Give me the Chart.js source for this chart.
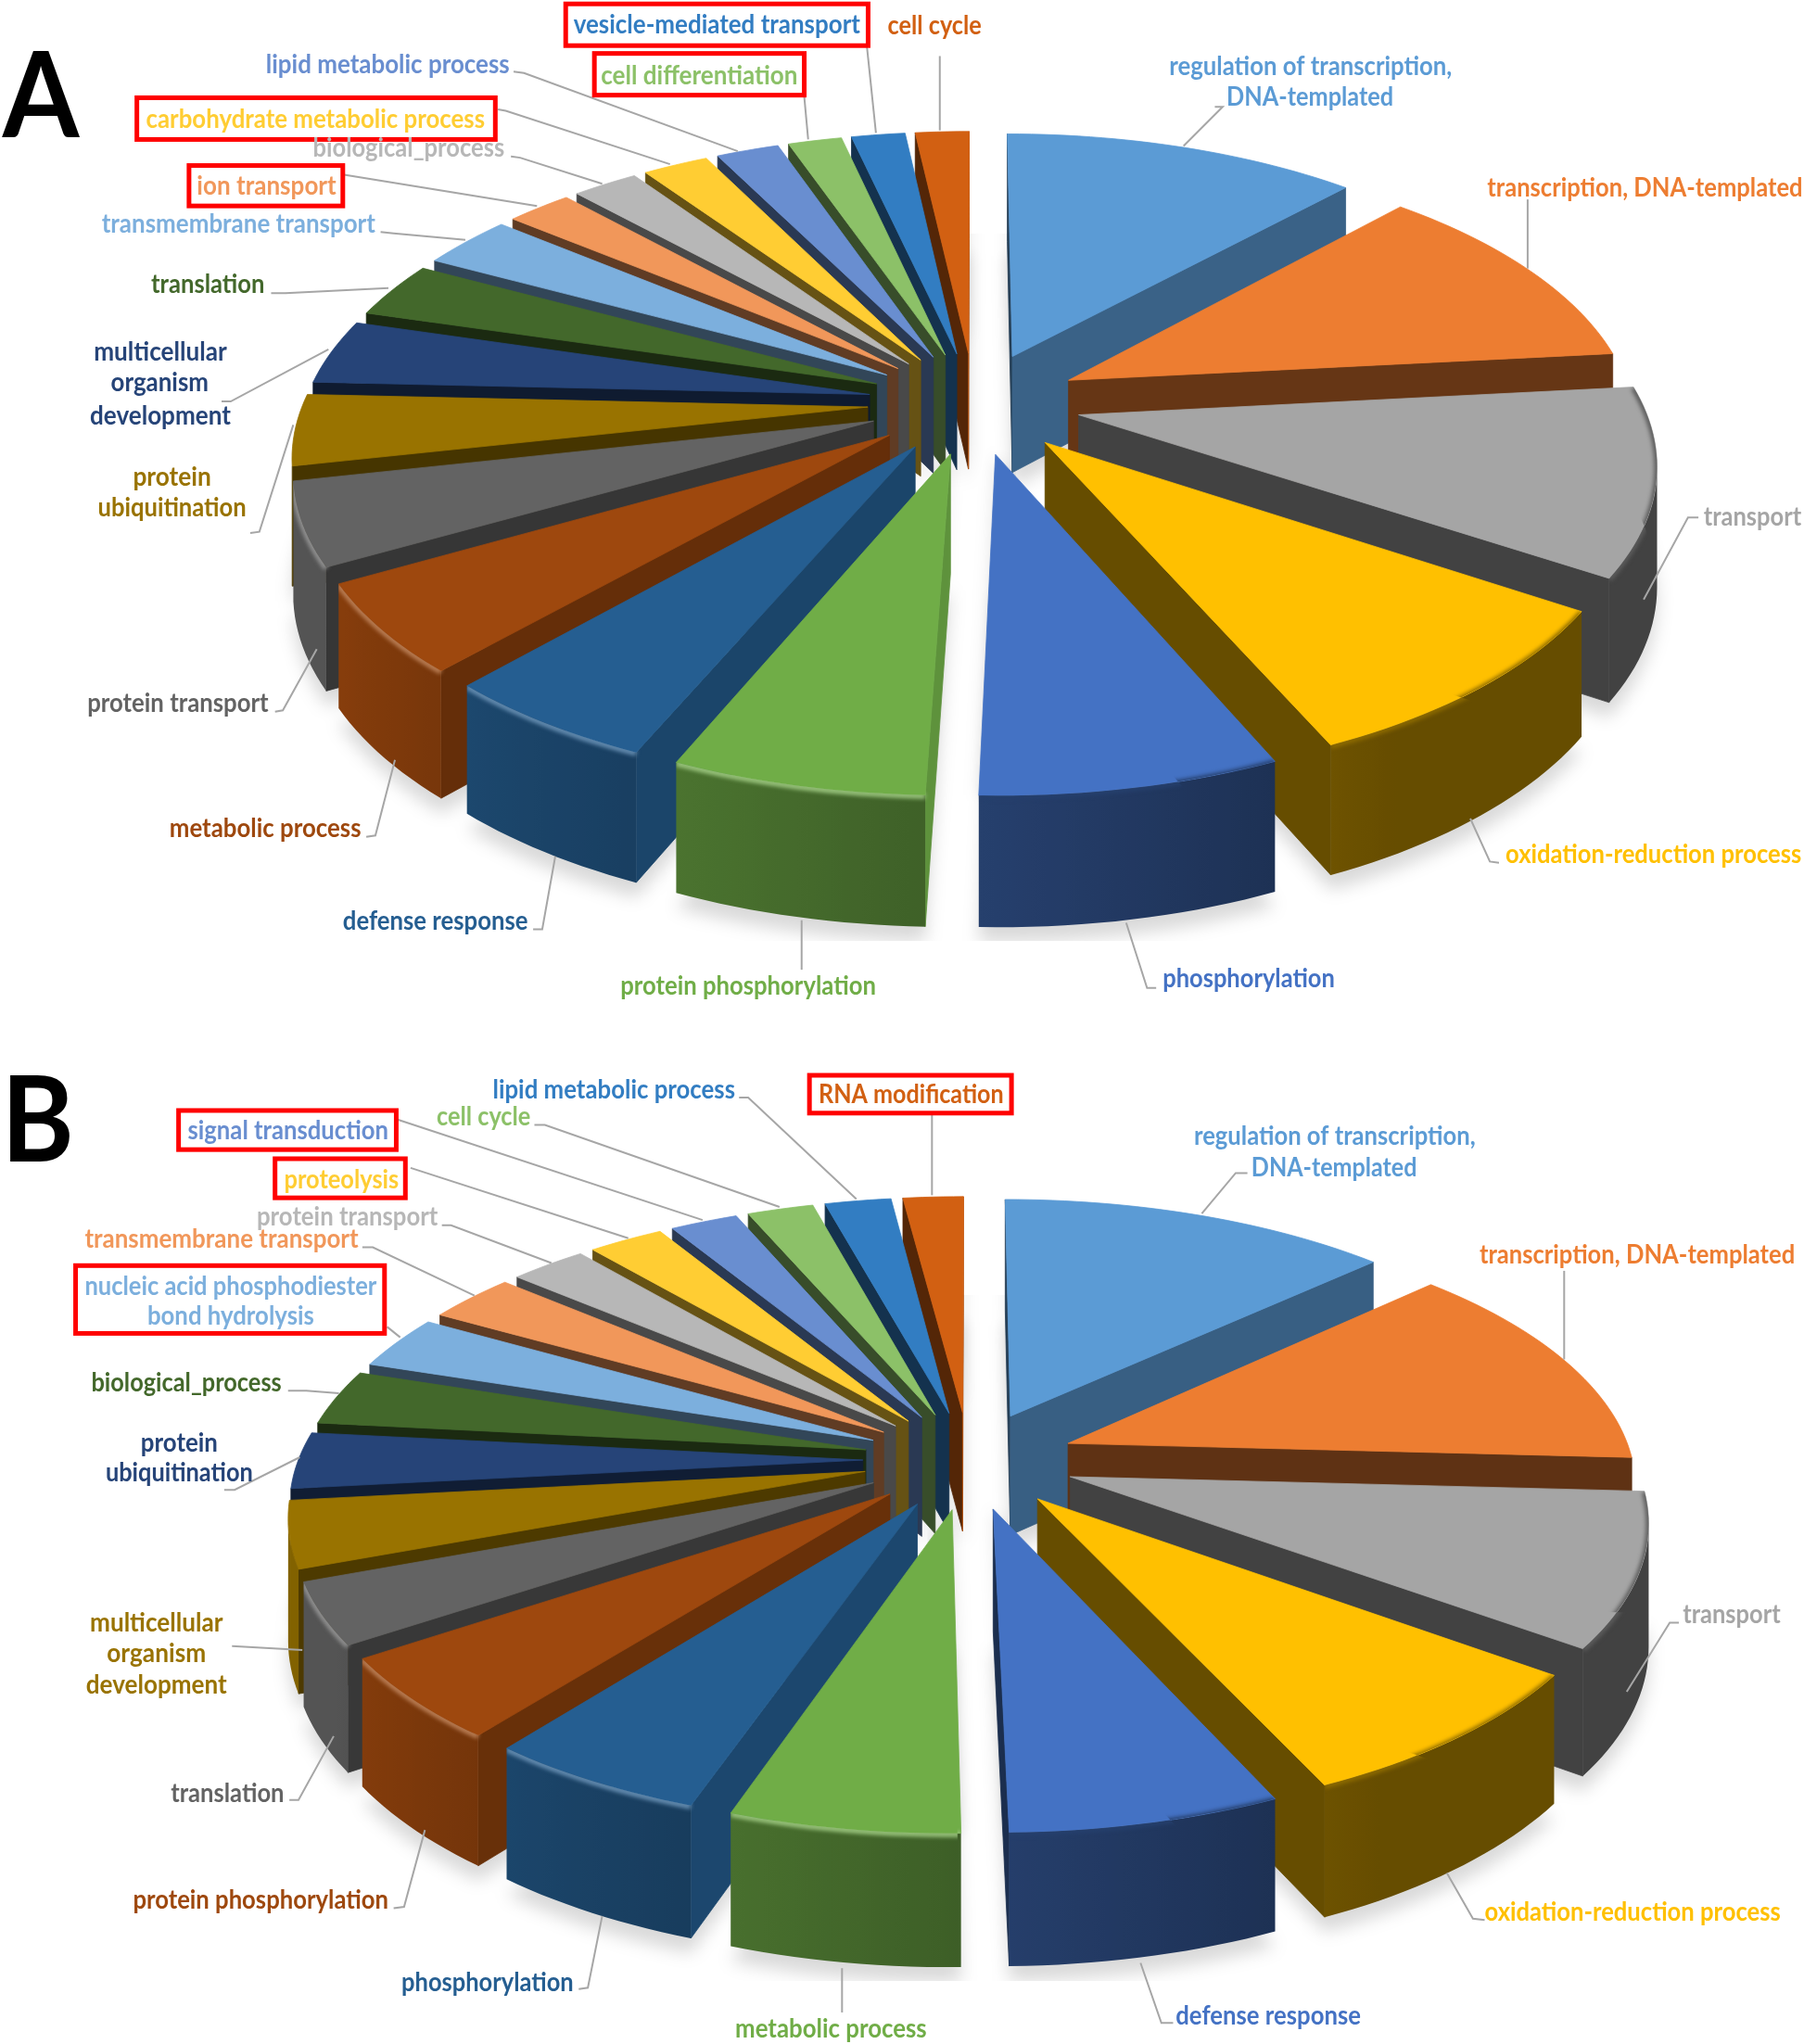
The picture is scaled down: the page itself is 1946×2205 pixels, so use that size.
<!DOCTYPE html>
<html>
<head>
<meta charset="utf-8">
<title>GO terms pies</title>
<script src="https://cdn.jsdelivr.net/npm/chart.js@4/dist/chart.umd.min.js"></script>
<style>
html, body { margin: 0; padding: 0; background: #fff; }
canvas { position: absolute; left: 0; top: 0; }
</style>
</head>
<body>
<canvas id="pieA" width="1946" height="2205"></canvas>
<canvas id="pieB" width="1946" height="2205"></canvas>
<script>
// chart data
var categoriesA = [["regulation of transcription,", "DNA-templated"], "transcription, DNA-templated", "transport", "oxidation-reduction process",
  "phosphorylation", "protein phosphorylation", "defense response", "metabolic process", "protein transport",
  ["protein", "ubiquitination"], ["multicellular", "organism", "development"], "translation", "transmembrane transport",
  "ion transport", "biological_process", "carbohydrate metabolic process", "lipid metabolic process",
  "cell differentiation", "vesicle-mediated transport", "cell cycle"];
var valuesA = [11.9, 11.4, 10.8, 9.15, 7.1, 6.0, 5.2, 5.15, 4.75, 4.1, 3.75, 3.25, 3.1, 2.2, 2.2, 2.2, 2.1, 1.8, 1.8, 1.8];

var categoriesB = [["regulation of transcription,", "DNA-templated"], "transcription, DNA-templated", "transport", "oxidation-reduction process",
  "defense response", "metabolic process", "phosphorylation", "protein phosphorylation", "translation",
  ["multicellular", "organism", "development"], ["protein", "ubiquitination"], "biological_process",
  ["nucleic acid phosphodiester", "bond hydrolysis"], "transmembrane transport", "protein transport", "proteolysis",
  "signal transduction", "cell cycle", "lipid metabolic process", "RNA modification"];
var valuesB = [13.0, 12.8, 9.2, 8.1, 6.5, 5.5, 5.3, 5.0, 3.7, 4.0, 3.4, 3.35, 3.25, 2.95, 2.55, 2.5, 2.25, 2.2, 2.2, 2.0];

var sliceColors = ["#5B9BD5", "#ED7D31", "#A5A5A5", "#FFC000", "#4472C4", "#70AD47", "#255E91", "#9E480E", "#636363", "#997300",
  "#264478", "#43682B", "#7CAFDD", "#F1975A", "#B7B7B7", "#FFCD33", "#698ED0", "#8CC168", "#327DC2", "#D26012"];

// label layout, in px of the 1384 wide thumbnail: one [left, right, y] per text line, same order as the categories
var SC = 1946 / 1384;
var textSpotsA = [[[897,1114,51],[941,1069,75]], [[1141,1383,144]], [[1307,1382,397]], [[1155,1382,656]],
  [[892,1024,751]], [[476,672,757]], [[263,405,707]], [[130,277,636]], [[67,206,540]],
  [[102,162,366],[75,189,390]], [[72,174,270],[85,160,294],[69,177,319]], [[116,203,218]], [[78,288,172]],
  [[151,258,143]], [[240,387,114]], [[112,372,92]], [[204,391,50]], [[461,612,58]], [[440,660,19]], [[681,753,20]]];
var leadersA = [[932,82,938,82,908,112], [1172,153,1172,206], [1303,397,1295,397,1261,460], [1150,662,1143,661,1128,628],
  [887,758,880,758,864,708], [615,744,615,706], [409,713,416,713,426,657], [281,642,288,641,303,583], [211,546,217,545,243,498],
  [192,409,199,408,225,326], [170,308,177,308,252,268], [208,225,219,225,298,221], [292,178,302,179,357,184],
  [264,134,412,158], [392,120,399,121,462,141], [382,84,388,85,514,126], [394,55,402,56,566,116],
  [617,74,620,107], [665,35,672,102], [721,43,721,100]];
var redBoxesA = [[434,3,666,35], [456,41,617,73], [105,75,380,107], [145,127,263,158]];

var textSpotsB = [[[916,1132,872],[960,1087,896]], [[1135,1377,963]], [[1291,1366,1239]], [[1139,1366,1467]],
  [[902,1044,1547]], [[564,711,1557]], [[308,440,1521]], [[102,298,1458]], [[131,218,1376]],
  [[69,171,1245],[82,158,1269],[66,174,1293]], [[108,167,1107],[81,194,1130]], [[70,216,1061]],
  [[65,289,987],[113,241,1010]], [[65,275,951]], [[197,336,934]], [[218,306,905]], [[144,298,868]],
  [[335,407,857]], [[378,564,836]], [[628,770,840]]];
var leadersB = [[957,900,948,900,922,931], [1200,975,1200,1043], [1288,1245,1281,1245,1248,1298], [1139,1473,1130,1472,1110,1437],
  [900,1552,891,1552,875,1506], [646,1544,646,1510], [444,1526,451,1525,462,1470], [302,1464,310,1463,326,1404], [222,1381,229,1381,256,1332],
  [178,1263,232,1266], [172,1143,180,1143,230,1118], [221,1067,235,1067,260,1069],
  [297,1018,307,1026], [278,957,286,957,364,994], [339,940,346,940,423,969], [315,896,482,950], [305,859,539,936],
  [410,863,418,863,598,926], [567,842,574,842,657,920], [715,855,715,917]];
var redBoxesB = [[621,825,776,854], [137,852,304,882], [211,889,311,919], [58,971,295,1023]];

function shade(hex, f) {
  var n = parseInt(hex.slice(1), 16);
  return "rgb(" + Math.round((n >> 16 & 255) * f) + "," + Math.round((n >> 8 & 255) * f) + "," + Math.round((n & 255) * f) + ")";
}
function tint(hex, f) {
  var n = parseInt(hex.slice(1), 16);
  var m = function (v) { return Math.round(v + (255 - v) * f); };
  return "rgb(" + m(n >> 16 & 255) + "," + m(n >> 8 & 255) + "," + m(n & 255) + ")";
}
function deg(t) { return ((t * 180 / Math.PI) % 360 + 360) % 360; }

// brightness of the outer wall and of the cut faces, by the way they look
function wallLight(a) {
  if (a < 150) return 0.4;
  if (a < 240) return 0.4 + (a - 150) / 90 * 0.45;
  return 0.85;
}
function cutLight(n) {
  if (n >= 180) return 0.4;
  if (n <= 90) return 0.85;
  return 0.85 - (n - 90) / 90 * 0.45;
}

function area(p) {
  var s = 0;
  for (var i = 0; i < p.length; i++) {
    var q = p[(i + 1) % p.length];
    s += p[i][0] * q[1] - q[0] * p[i][1];
  }
  return s;
}
function poly(ctx, p) {
  ctx.moveTo(p[0][0], p[0][1]);
  for (var i = 1; i < p.length; i++) ctx.lineTo(p[i][0], p[i][1]);
  ctx.closePath();
}
function fillPoly(ctx, p, col) {
  ctx.beginPath();
  poly(ctx, p);
  ctx.fillStyle = col;
  ctx.strokeStyle = col;
  ctx.lineWidth = 0.8;
  ctx.fill();
  ctx.stroke();
}

// the library works out the angles, this only projects them on a tilted plane
var pie3d = {
  id: "pie3d",
  beforeDatasetsDraw: function (chart, args, o) {
    var ctx = chart.ctx;
    var proj = function (X, Z, h) {
      var s = 1 / (1 + o.persp * Z);
      return [o.cx + s * X, o.cy - s * o.tilt * Z + h * Math.pow(s, 0.55)];
    };
    var slices = chart.getDatasetMeta(0).data.map(function (arc) {
      var t0 = arc.startAngle + Math.PI / 2, t1 = arc.endAngle + Math.PI / 2;
      var mid = (t0 + t1) / 2;
      var ox = o.explode * Math.sin(mid), oz = o.explode * Math.cos(mid);
      var n = Math.ceil((t1 - t0) / 0.025);
      var top = [], bot = [], angles = [];
      for (var i = 0; i <= n; i++) {
        var t = t0 + (t1 - t0) * i / n;
        var X = ox + o.radius * Math.sin(t), Z = oz + o.radius * Math.cos(t);
        top.push(proj(X, Z, 0));
        bot.push(proj(X, Z, o.height));
        angles.push(t);
      }
      return { color: arc.options.backgroundColor, t0: t0, t1: t1, mid: mid, top: top, bot: bot, angles: angles,
        apexTop: proj(ox, oz, 0), apexBot: proj(ox, oz, o.height) };
    });

    // soft shadow on the floor
    ctx.save();
    ctx.beginPath();
    ctx.rect(0, o.shadowTop, 1946, o.shadowBottom - o.shadowTop);
    ctx.clip();
    ctx.filter = "blur(9px)";
    ctx.fillStyle = "rgba(0,0,0,0.15)";
    ctx.save();
    ctx.translate(0, 16);
    ctx.beginPath();
    slices.forEach(function (s) { poly(ctx, [s.apexBot].concat(s.bot)); });
    ctx.fill();
    ctx.restore();
    ctx.beginPath();
    ctx.rect(o.cx - 45, 0, 90, 2205);
    ctx.clip();
    ctx.beginPath();
    slices.forEach(function (s) { poly(ctx, [s.apexTop].concat(s.top)); });
    ctx.fillStyle = "rgba(0,0,0,0.10)";
    ctx.fill();
    ctx.restore();

    // back to front
    slices.slice().sort(function (a, b) { return Math.cos(b.mid) - Math.cos(a.mid); }).forEach(function (s) {
      var last = s.top.length - 1;
      var startWall = [s.apexTop, s.top[0], s.bot[0], s.apexBot];
      var endWall = [s.top[last], s.apexTop, s.apexBot, s.bot[last]];
      if (area(startWall) < 0) fillPoly(ctx, startWall, shade(s.color, cutLight(deg(s.t0 - Math.PI / 2))));
      if (area(endWall) < 0) fillPoly(ctx, endWall, shade(s.color, cutLight(deg(s.t1 + Math.PI / 2))));

      // the part of the outer wall that faces the camera, one smooth gradient
      var first = -1, end = -1;
      for (var i = 0; i < last; i++) {
        if (area([s.top[i], s.top[i + 1], s.bot[i + 1], s.bot[i]]) < 0) {
          if (first < 0) first = i;
          end = i + 1;
        }
      }
      if (first >= 0) {
        var x0 = s.bot[first][0], x1 = s.bot[end][0];
        var grad = ctx.createLinearGradient(x0, 0, x1, 0);
        for (var j = first; j <= end; j++) {
          var pos = Math.min(1, Math.max(0, (s.bot[j][0] - x0) / ((x1 - x0) || 1)));
          grad.addColorStop(pos, shade(s.color, wallLight(deg(s.angles[j]))));
        }
        var wall = s.top.slice(first, end + 1).concat(s.bot.slice(first, end + 1).reverse());
        ctx.beginPath();
        poly(ctx, wall);
        ctx.fillStyle = grad;
        ctx.fill();
      }
      fillPoly(ctx, [s.apexTop].concat(s.top), s.color);

      // bevel along the front rim
      var a = deg(s.mid);
      if (a > 85 && a < 255) {
        ctx.save();
        ctx.beginPath();
        poly(ctx, [s.apexTop].concat(s.top, s.bot.slice().reverse(), [s.apexBot]));
        ctx.clip();
        ctx.filter = "blur(2px)";
        ctx.beginPath();
        s.top.forEach(function (p, i) { if (i) ctx.lineTo(p[0], p[1] + 1); else ctx.moveTo(p[0], p[1] + 1); });
        ctx.strokeStyle = a > 185 ? tint(s.color, 0.3) : shade(s.color, 0.55);
        ctx.lineWidth = 6;
        ctx.stroke();
        ctx.restore();
      }
    });

    // leader lines, red frames and labels
    ctx.lineJoin = "miter";
    ctx.strokeStyle = "#A6A6A6";
    ctx.lineWidth = 2;
    o.leaders.forEach(function (l) {
      ctx.beginPath();
      for (var i = 0; i < l.length; i += 2) ctx.lineTo(l[i] * SC, l[i + 1] * SC);
      ctx.stroke();
    });
    ctx.strokeStyle = "#FF0000";
    ctx.lineWidth = 5;
    o.redBoxes.forEach(function (b) {
      ctx.strokeRect(b[0] * SC, b[1] * SC, (b[2] - b[0]) * SC, (b[3] - b[1]) * SC);
    });
    ctx.font = "700 28px Lato";
    ctx.textAlign = "left";
    ctx.textBaseline = "middle";
    chart.data.labels.forEach(function (label, i) {
      var lines = [].concat(label);
      ctx.fillStyle = sliceColors[i];
      lines.forEach(function (line, j) {
        var spot = o.textSpots[i][j];
        var w = (spot[1] - spot[0]) * SC;
        ctx.save();
        ctx.translate(spot[0] * SC, spot[2] * SC);
        ctx.scale(w / ctx.measureText(line).width, 1);
        ctx.fillText(line, 0, 0);
        ctx.restore();
      });
    });
    ctx.fillStyle = "#000";
    ctx.font = "bold 128px Lato";
    ctx.textBaseline = "alphabetic";
    ctx.save();
    ctx.translate(o.letter[1] * SC, o.letter[2] * SC);
    ctx.scale(0.93, 1);
    ctx.fillText(o.letter[0], 0, 0);
    ctx.restore();
    return false;
  }
};

function makePie(id, categories, values, opts) {
  return new Chart(document.getElementById(id), {
    type: "pie",
    data: { labels: categories, datasets: [{ data: values, backgroundColor: sliceColors, borderWidth: 0 }] },
    options: {
      responsive: false,
      animation: false,
      devicePixelRatio: 1,
      events: [],
      plugins: { legend: { display: false }, tooltip: { enabled: false }, pie3d: opts }
    },
    plugins: [pie3d]
  });
}

makePie("pieA", categoriesA, valuesA, {
  cx: 1051, cy: 434.5, radius: 609, explode: 115, tilt: 0.479, persp: 0.000255, height: 127,
  shadowTop: 252, shadowBottom: 1015, letter: ["A", 2, 105],
  textSpots: textSpotsA, leaders: leadersA, redBoxes: redBoxesA
});
makePie("pieB", categoriesB, valuesB, {
  cx: 1045.4, cy: 1575, radius: 609, explode: 114.6, tilt: 0.461, persp: 0.00024, height: 130,
  shadowTop: 1397, shadowBottom: 2137, letter: ["B", 1, 891],
  textSpots: textSpotsB, leaders: leadersB, redBoxes: redBoxesB
});
</script>
</body>
</html>
